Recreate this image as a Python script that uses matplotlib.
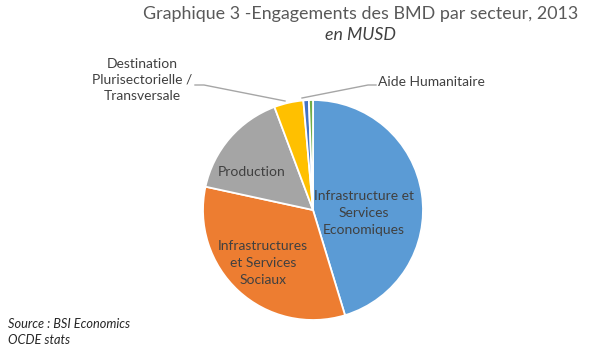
import matplotlib.pyplot as plt

# data (share of commitments)
secteurs = ['Infrastructure et\nServices\nEconomiques',
            'Infrastructures\net Services\nSociaux',
            'Production',
            'Destination\nPlurisectorielle /\nTransversale',
            'Aide Humanitaire',
            'Autres']
valeurs = [45.3, 33.1, 15.9, 4.3, 0.8, 0.6]
couleurs = ['#5B9BD5', '#ED7D31', '#A5A5A5', '#FFC000', '#4472C4', '#70AD47']

plt.rcParams['font.family'] = ['Lato', 'DejaVu Sans']

W, H = 592, 352
fig = plt.figure(figsize=(W / 100, H / 100), dpi=100)
ax = fig.add_axes([0, 0, 1, 1])

# pie, clockwise from 12 o'clock
ax.pie(valeurs, colors=couleurs, startangle=90, counterclock=False,
       center=(313, H - 210), radius=110,
       wedgeprops=dict(edgecolor='white', linewidth=1.3))

# pie() resets the limits, so set them afterwards
ax.set_xlim(0, W)
ax.set_ylim(0, H)
ax.set_aspect('equal')
ax.axis('off')

txt = '#404040'
# labels inside
ax.text(364, H - 213, secteurs[0], ha='center', va='center', fontsize=10,
        color=txt, linespacing=1.45)
ax.text(263, H - 263, secteurs[1], ha='center', va='center', fontsize=10,
        color=txt, linespacing=1.45)
ax.text(252, H - 172, secteurs[2], ha='center', va='center', fontsize=10,
        color=txt)
# outside labels with leader lines
ax.text(142, H - 80, secteurs[3], ha='center', va='center', fontsize=10,
        color=txt, linespacing=1.35)
ax.plot([195, 204, 285], [H - 85, H - 85, H - 101], color='#A6A6A6', lw=1)
ax.text(378, H - 82, secteurs[4], ha='left', va='center', fontsize=10,
        color=txt)
ax.plot([376, 368, 302], [H - 85, H - 85, H - 98], color='#A6A6A6', lw=1)

# titles
ax.text(361, H - 14, 'Graphique 3 -Engagements des BMD par secteur, 2013',
        ha='center', va='center', fontsize=12.9, color='#595959')
ax.text(360, H - 35, 'en MUSD', ha='center', va='center', fontsize=12.8,
        color='#404040', style='italic')

# source
ax.text(8, H - 324, 'Source : BSI Economics', ha='left', va='center',
        fontsize=9.2, style='italic', color='#262626')
ax.text(8, H - 340, 'OCDE stats', ha='left', va='center',
        fontsize=9.2, style='italic', color='#262626')

fig.savefig('out.png', dpi=100, facecolor='white')
